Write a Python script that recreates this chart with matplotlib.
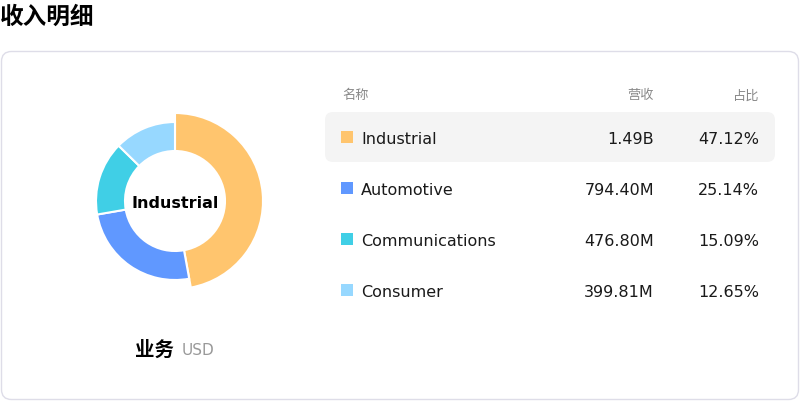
import matplotlib
matplotlib.use("Agg")
import matplotlib.pyplot as plt
from matplotlib.patches import FancyBboxPatch, Rectangle

plt.rcParams['font.family'] = ['DejaVu Sans', 'Noto Sans CJK SC']

# data
categories = ['Industrial', 'Automotive', 'Communications', 'Consumer']
revenue_labels = ['1.49B', '794.40M', '476.80M', '399.81M']
shares = [47.12, 25.14, 15.09, 12.65]
colors = ['#FFC56E', '#6098FF', '#40CFE6', '#97D8FF']
headers = ['名称', '营收', '占比']

W, H = 800, 402
fig = plt.figure(figsize=(W / 100, H / 100), dpi=100)

# overlay axes in pixel coords
ax = fig.add_axes([0, 0, 1, 1])
ax.set_xlim(0, W)
ax.set_ylim(H, 0)
ax.axis('off')

ax.text(0, 17, '收入明细', fontsize=17, fontweight='bold', va='center', ha='left')

card = FancyBboxPatch((1.5, 52.5), 797, 348, boxstyle='round,pad=0,rounding_size=10',
                      facecolor='white', edgecolor='#dedde8', linewidth=1)
ax.add_patch(card)

# table
ax.text(342, 96, headers[0], fontsize=9.5, color='#888888', va='center', ha='left')
ax.text(654, 96, headers[1], fontsize=9.5, color='#888888', va='center', ha='right')
ax.text(759, 96, headers[2], fontsize=9.5, color='#888888', va='center', ha='right')

row_y0, row_h = 138, 51
hl = FancyBboxPatch((325, 113), 450, 50, boxstyle='round,pad=0,rounding_size=8',
                    facecolor='#f4f4f4', edgecolor='none')
ax.add_patch(hl)
for i, (name, rev, pct, c) in enumerate(zip(categories, revenue_labels, shares, colors)):
    y = row_y0 + i * row_h
    ax.add_patch(Rectangle((341, y - 6), 12, 12, facecolor=c, edgecolor='none'))
    ax.text(361, y + 2, name, fontsize=11.5, color='#1a1a1a', va='center', ha='left')
    ax.text(654, y + 2, rev, fontsize=11.5, color='#1a1a1a', va='center', ha='right')
    ax.text(759, y + 2, f'{pct:.2f}%', fontsize=11.5, color='#1a1a1a', va='center', ha='right')

ax.text(155, 350, '业务', fontsize=14, fontweight='bold', va='center', ha='center')
ax.text(182, 351, 'USD', fontsize=11, color='#999999', va='center', ha='left')

# donut
cx, cy, R = 175, 202, 88
pax = fig.add_axes([(cx - R) / W, (H - cy - R) / H, 2 * R / W, 2 * R / H])
pax.set_xlim(-1, 1)
pax.set_ylim(-1, 1)
pax.set_aspect('equal')
pax.axis('off')
inner = 50 / R
outer_small = 79 / R
wedges, _ = pax.pie(shares, colors=colors, startangle=90, counterclock=False,
                    radius=outer_small,
                    wedgeprops=dict(width=outer_small - inner, edgecolor='white', linewidth=1.5))
wedges[0].set_radius(1.0)
wedges[0].set_width(1.0 - inner)
pax.set_xlim(-1, 1)
pax.set_ylim(-1, 1)
pax.text(0, -0.02, categories[0], fontsize=11.5, fontweight='bold', ha='center', va='center')

fig.savefig('out.png', dpi=100)
